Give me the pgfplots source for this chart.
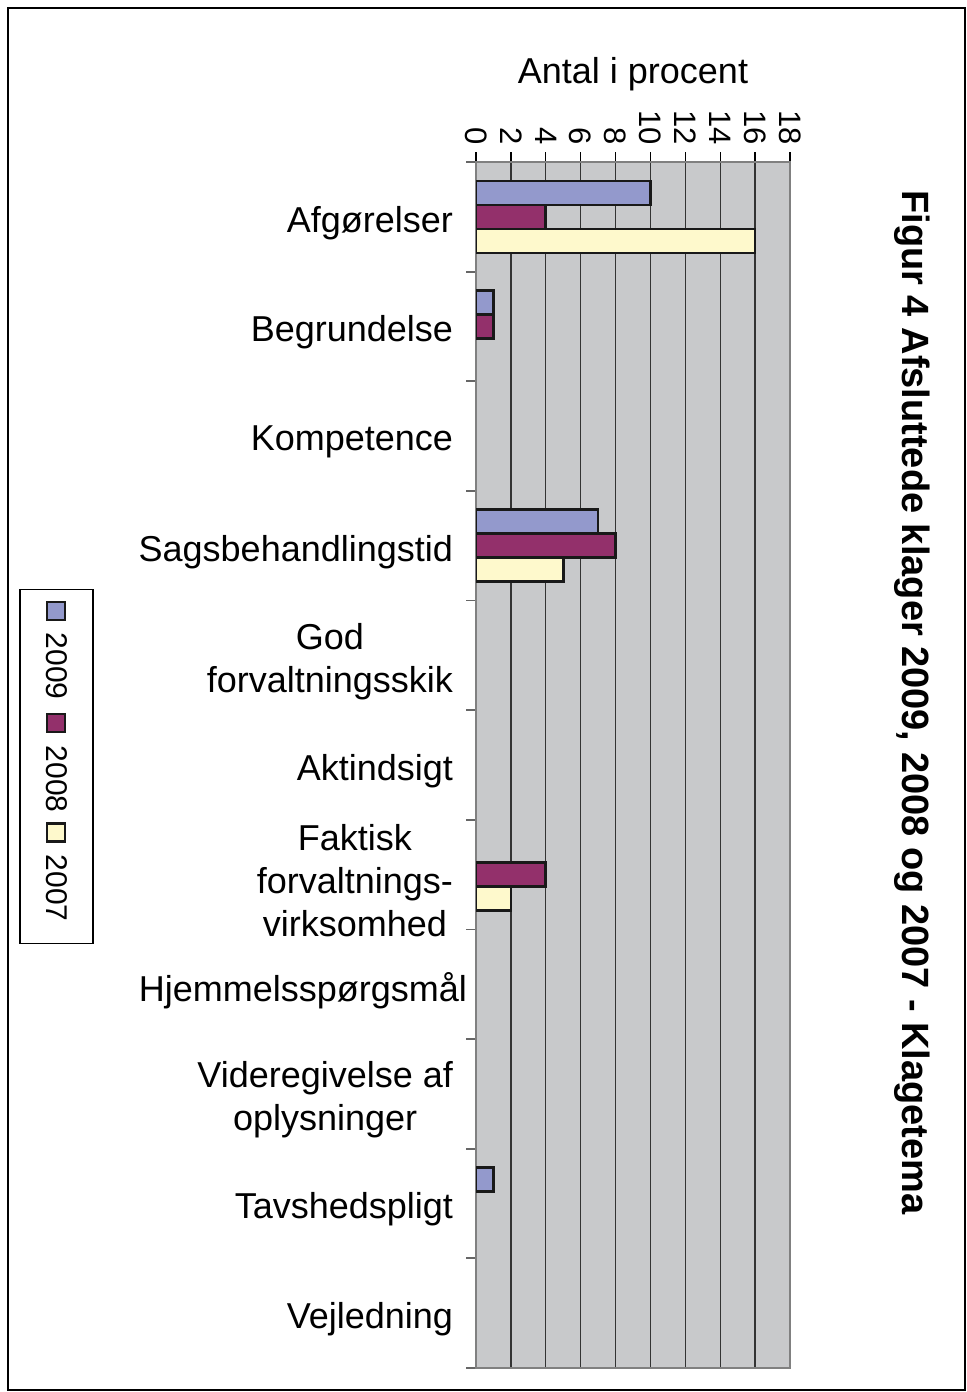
\documentclass[border=0pt]{standalone}
\usepackage{pgfplots}
\pgfplotsset{compat=1.18}
\usepackage{fontspec}
\setmainfont{Liberation Sans}
\definecolor{c2009}{HTML}{9399CC}
\definecolor{c2008}{HTML}{93306B}
\definecolor{c2007}{HTML}{FEF9CC}
\definecolor{plotbg}{HTML}{C8C9CB}
\newcommand{\lsq}[1]{\tikz[baseline=-0.6pt]\draw[fill=#1, draw=black!90, line width=1.1pt] (0,0) rectangle (9pt,9pt);}
\begin{document}
\begin{tikzpicture}
\useasboundingbox (0,0) rectangle (483pt,-696pt);
\draw[line width=0.7pt] (4pt,-4pt) rectangle (482.5pt,-695pt);
\begin{axis}[
  at={(238pt,-81pt)}, anchor=north west,
  scale only axis, width=157pt, height=603pt,
  xbar, bar width=12pt,
  xmin=0, xmax=18, ymin=-0.5, ymax=10.5, y dir=reverse,
  xtick={0,2,...,18},
  xtick pos=right, xticklabel pos=right,
  ytick={0,...,10},
  minor ytick={-0.5,0.5,...,10.5},
  ytick pos=left,
  tick align=outside,
  major tick length=5pt, minor tick length=5pt,
  every major y tick/.style={draw=none},
  every minor y tick/.style={draw=black!60, line width=0.9pt},
  every major x tick/.style={draw=black, line width=0.7pt},
  yticklabels={Afgørelser, Begrundelse, Kompetence, Sagsbehandlingstid, {God\\forvaltningsskik}, Aktindsigt, {Faktisk\\forvaltnings-\\virksomhed}, {Hjemmelsspørgsmål\hspace*{-7pt}}, {Videregivelse af\\oplysninger}, Tavshedspligt, Vejledning},
  yticklabel style={anchor=east, align=center, xshift=-3pt, yshift=-3pt, font=\fontsize{18}{21.5}\selectfont},
  xticklabel style={rotate=-90, anchor=east, font=\fontsize{15.5}{17}\selectfont},
  /pgf/number format/assume math mode=true,
  xlabel={Antal i procent},
  xlabel style={at={(axis description cs:0.5,1)}, anchor=center, yshift=44pt, font=\fontsize{18}{21.5}\selectfont},
  xmajorgrids,
  major grid style={draw=black!80, line width=0.7pt},
  axis line style={draw=black!50, line width=1.2pt},
  axis background/.style={fill=plotbg},
]
\addplot[fill=c2009, draw=black!90, line width=1.3pt, bar shift=12pt] coordinates {(10,0) (1,1) (7,3) (1,9)};
\addplot[fill=c2008, draw=black!90, line width=1.3pt, bar shift=0pt] coordinates {(4,0) (1,1) (8,3) (4,6)};
\addplot[fill=c2007, draw=black!90, line width=1.3pt, bar shift=-12pt] coordinates {(16,0) (5,3) (2,6)};
\end{axis}
\node[rotate=-90, draw=black, line width=0.6pt, inner sep=0pt, minimum height=36.5pt, font=\fontsize{15}{17}\selectfont] at (28.25pt,-383.25pt)
  {\hspace*{5.5pt}\lsq{c2009}\hspace{6pt}2009\hspace{6.5pt}\lsq{c2008}\hspace{6.5pt}2008\hspace{5pt}\lsq{c2007}\hspace{6pt}2007\hspace*{11pt}};
\node[rotate=-90, anchor=west, font=\bfseries\fontsize{19}{23}\selectfont, inner sep=0pt] at (456pt,-95pt) {Figur 4 Afsluttede klager 2009, 2008 og 2007 - Klagetema};
\end{tikzpicture}
\end{document}
